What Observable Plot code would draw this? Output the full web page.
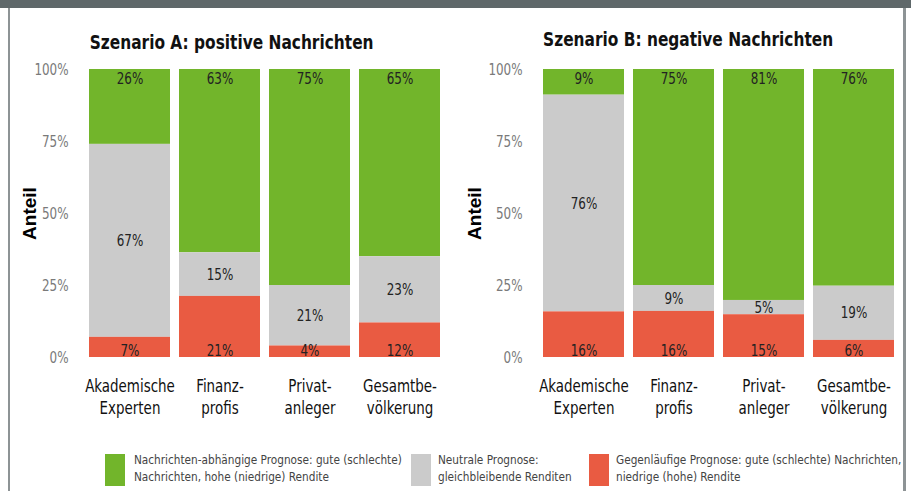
<!DOCTYPE html>
<html>
<head>
<meta charset="utf-8">
<script src="https://cdn.jsdelivr.net/npm/d3@7"></script>
<script src="https://cdn.jsdelivr.net/npm/@observablehq/plot@0.6"></script>
<style>
  html, body { margin: 0; padding: 0; background: #fff; }
  #root { position: relative; width: 911px; height: 491px; overflow: hidden; background: #fff;
    font-family: "DejaVu Sans Condensed", "DejaVu Sans", sans-serif; font-stretch: condensed; }
  #root svg text { font-stretch: condensed; }
  .abs { position: absolute; }
  .title { font-weight: bold; font-size: 19px; color: #111; white-space: nowrap; transform: scaleX(0.9); transform-origin: center top; }
  .leg-sw { position: absolute; width: 20px; height: 32px; }
  .leg-tx { position: absolute; font-size: 13px; line-height: 17px; color: #444; white-space: nowrap; transform: scaleX(0.9); transform-origin: left top; }
</style>
</head>
<body>
<div id="root"></div>
<script>
// ---- data ----
const categories = ["Akademische Experten", "Finanzprofis", "Privatanleger", "Gesamtbevölkerung"];
const categoryLabels = ["Akademische\nExperten", "Finanz-\nprofis", "Privat-\nanleger", "Gesamtbe-\nvölkerung"];
const seriesNames = ["Nachrichten-abhängige Prognose", "Neutrale Prognose", "Gegenläufige Prognose"];
const seriesColors = ["#72b52b", "#cbcbcb", "#e95b42"];
const scenarioA_abhaengig = [26, 63, 75, 65];
const scenarioA_neutral = [67, 15, 21, 23];
const scenarioA_gegenlaeufig = [7, 21, 4, 12];
const scenarioB_abhaengig = [9, 75, 81, 76];
const scenarioB_neutral = [76, 9, 5, 19];
const scenarioB_gegenlaeufig = [16, 16, 15, 6];
const yTicks = [0, 0.25, 0.5, 0.75, 1];
const titleA = "Szenario A: positive Nachrichten";
const titleB = "Szenario B: negative Nachrichten";
const yLabel = "Anteil";
const legendTexts = [
  "Nachrichten-abhängige Prognose: gute (schlechte)\nNachrichten, hohe (niedrige) Rendite",
  "Neutrale Prognose:\ngleichbleibende Renditen",
  "Gegenläufige Prognose: gute (schlechte) Nachrichten,\nniedrige (hohe) Rendite"
];

function buildRows(abh, neu, geg) {
  const rows = [];
  categories.forEach((c, i) => {
    rows.push({cat: c, series: seriesNames[0], value: abh[i]});
    rows.push({cat: c, series: seriesNames[1], value: neu[i]});
    rows.push({cat: c, series: seriesNames[2], value: geg[i]});
  });
  return rows;
}

const FONT = '"DejaVu Sans Condensed", "DejaVu Sans", sans-serif';
const stackOrder = [seriesNames[2], seriesNames[1], seriesNames[0]];

// horizontally condense svg texts (narrow DIN-like look), skipping rotated ones
function condense(svg, k) {
  d3.select(svg).selectAll("text").each(function () {
    const t = this.getAttribute("transform") || "";
    if (t.includes("rotate")) return;
    this.setAttribute("transform", (t + ` scale(${k},1)`).trim());
  });
}

function makePanel(rows, width, mLeft, mRight, labelOffset) {
  const st = {x: "cat", y: "value", z: "series", order: stackOrder, offset: "normalize"};
  const lbl = (s) => (d) => d.series === s ? d.value + "%" : null;
  const svg = Plot.plot({
    width, height: 430,
    marginTop: 69, marginBottom: 73, marginLeft: mLeft, marginRight: mRight,
    style: {fontFamily: FONT, background: "transparent", overflow: "visible"},
    x: {domain: categories, padding: 0.095, axis: null},
    y: {domain: [0, 1], axis: null},
    color: {domain: seriesNames, range: seriesColors},
    marks: [
      Plot.barY(rows, Plot.stackY({...st, fill: "series"})),
      Plot.text(rows, Plot.stackY2({...st, text: lbl(seriesNames[0]), dy: 9, fontSize: 16, fill: "#222"})),
      Plot.text(rows, Plot.stackY({...st, text: lbl(seriesNames[1]), fontSize: 16, fill: "#222"})),
      Plot.text(rows, Plot.stackY1({...st, text: lbl(seriesNames[2]), dy: -7, fontSize: 16, fill: "#222"})),
      Plot.axisX({tickSize: 0, tickPadding: 19, fontSize: 18, lineHeight: 1.22, fill: "#111",
        tickFormat: (d) => categoryLabels[categories.indexOf(d)], label: null}),
      Plot.axisY({ticks: yTicks, tickSize: 0, tickPadding: 11, fontSize: 16, fill: "#7a7a7a",
        tickFormat: (d) => Math.round(d * 100) + "%", label: null}),
      Plot.axisY({ticks: [], label: yLabel, labelAnchor: "center", labelArrow: "none", labelOffset,
        fontSize: 19, fontWeight: "bold", fill: "#000", fontFamily: '"Liberation Sans", Arial, sans-serif'})
    ]
  });
  condense(svg, 0.83);
  return svg;
}

const root = document.getElementById("root");

// frame
const header = document.createElement("div");
header.className = "abs";
Object.assign(header.style, {left: "0px", top: "0px", width: "911px", height: "8px", background: "#5f686a"});
root.appendChild(header);
const lb = document.createElement("div");
lb.className = "abs";
Object.assign(lb.style, {left: "8px", top: "8px", width: "2px", height: "483px", background: "#8d9395"});
root.appendChild(lb);
const rb = document.createElement("div");
rb.className = "abs";
Object.assign(rb.style, {left: "903px", top: "8px", width: "3px", height: "483px", background: "#8d9395"});
root.appendChild(rb);

// panels
const pA = makePanel(buildRows(scenarioA_abhaengig, scenarioA_neutral, scenarioA_gegenlaeufig), 460, 79, 10, 57);
pA.style.position = "absolute"; pA.style.left = "0px"; pA.style.top = "0px";
root.appendChild(pA);
const pB = makePanel(buildRows(scenarioB_abhaengig, scenarioB_neutral, scenarioB_gegenlaeufig), 456, 78, 7, 66);
pB.style.position = "absolute"; pB.style.left = "455px"; pB.style.top = "0px";
root.appendChild(pB);

// titles
function addTitle(text, cx, top) {
  const t = document.createElement("div");
  t.className = "abs title";
  t.textContent = text;
  root.appendChild(t);
  t.style.top = top + "px";
  t.style.left = (cx - t.offsetWidth / 2) + "px";
}
addTitle(titleA, 231, 31);
addTitle(titleB, 688, 28);

// legend
const legX = [[105, 134], [411, 438], [589, 616]];
legendTexts.forEach((txt, i) => {
  const sw = document.createElement("div");
  sw.className = "leg-sw";
  Object.assign(sw.style, {left: legX[i][0] + "px", top: "454px", background: seriesColors[i]});
  root.appendChild(sw);
  const tx = document.createElement("div");
  tx.className = "leg-tx";
  tx.style.left = legX[i][1] + "px";
  tx.style.top = "451px";
  tx.innerHTML = txt.split("\n").map(s => s.replace(/&/g, "&amp;")).join("<br>");
  root.appendChild(tx);
});
</script>
</body>
</html>
